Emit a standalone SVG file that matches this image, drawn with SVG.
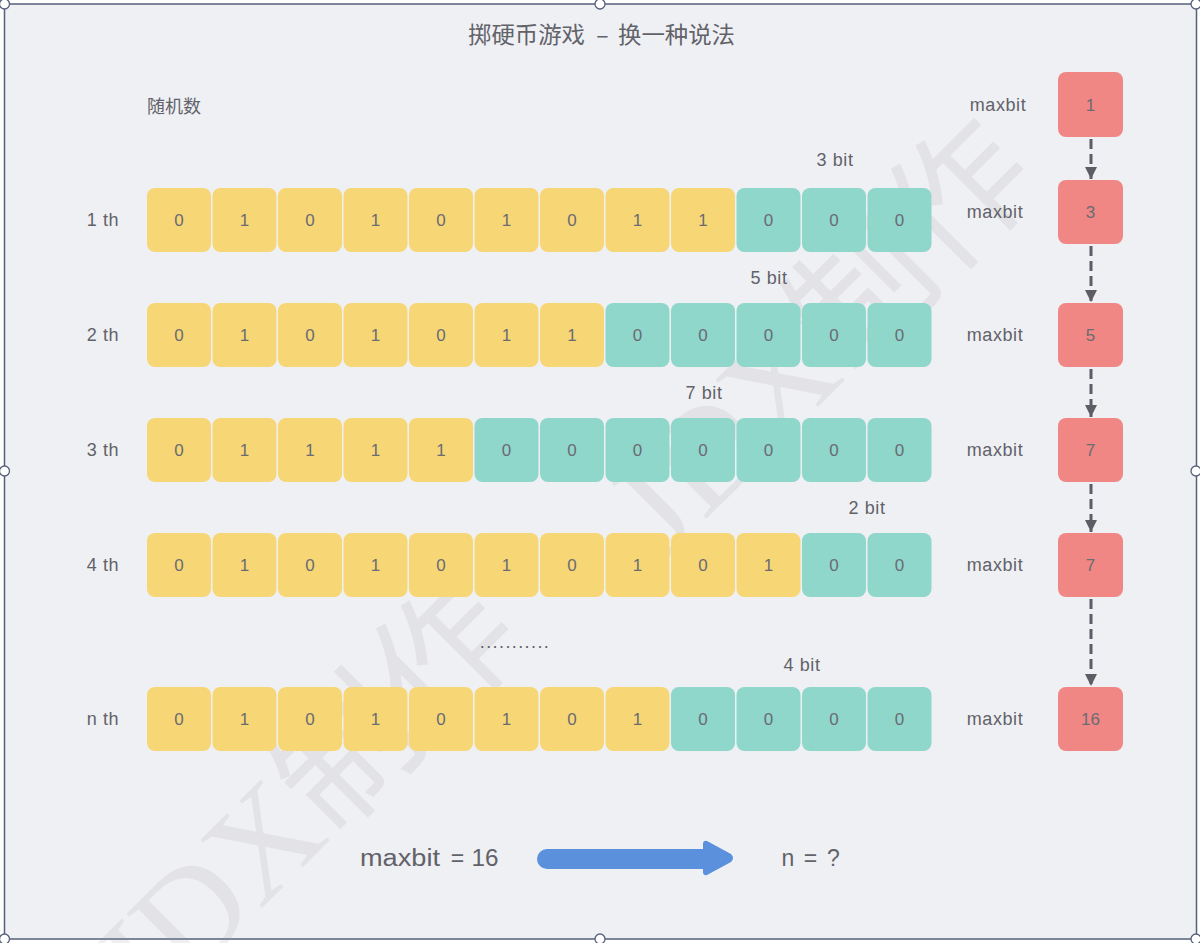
<svg xmlns="http://www.w3.org/2000/svg" width="1200" height="943" viewBox="0 0 1200 943">
<defs>
<style>
.txt{font-family:"Liberation Sans","Noto Sans CJK SC",sans-serif;fill:#626269;}
.cjk{font-family:"Noto Sans CJK SC","Liberation Sans",sans-serif;fill:#626269;}
.d{font-family:"Liberation Sans","Noto Sans CJK SC",sans-serif;font-size:17px;fill:#6b6b73;text-anchor:middle;dominant-baseline:central;}
.lab{font-family:"Liberation Sans","Noto Sans CJK SC",sans-serif;font-size:18px;letter-spacing:0.6px;fill:#626269;text-anchor:middle;dominant-baseline:central;}
.y{fill:#f7d676;}
.t{fill:#8fd6cb;}
.r{fill:#f08784;}
.conn{stroke:#5d5d66;stroke-width:3;stroke-dasharray:10 5;fill:none;}
.h{fill:#ffffff;stroke:#56607a;stroke-width:1.3;}
.wm{font-family:"Liberation Serif","Noto Sans CJK SC",serif;font-size:140px;fill:#8e8e96;opacity:0.13;}
</style>
<marker id="ah" markerUnits="userSpaceOnUse" markerWidth="14" markerHeight="14" refX="12" refY="6" orient="auto">
<path d="M0,0 L12,6 L0,12 z" fill="#5d5d66"/>
</marker>
</defs>
<rect x="0" y="0" width="1200" height="943" fill="#ffffff"/>
<rect id="frame" x="4.5" y="4" width="1192" height="935" fill="#eff0f4" stroke="#56607a" stroke-width="1.5"/>

<g id="watermark">
<text class="wm" transform="translate(665,560) rotate(-45)">JDX制作</text>
<text class="wm" transform="translate(150,1020) rotate(-45)">JDX制作</text>
</g>

<g id="title">
<text class="cjk" x="468" y="33" font-size="23" dominant-baseline="central" textLength="117" lengthAdjust="spacingAndGlyphs">掷硬币游戏</text>
<text class="cjk" x="602.5" y="33" font-size="23" text-anchor="middle" dominant-baseline="central">–</text>
<text class="cjk" x="618" y="33" font-size="23" dominant-baseline="central" textLength="117" lengthAdjust="spacingAndGlyphs">换一种说法</text>
</g>
<g id="label-random"><text class="cjk" x="147" y="105" font-size="18" dominant-baseline="central">随机数</text></g>

<g id="row-1" transform="translate(0,188)">
<text class="lab" x="103" y="32">1 th</text>
<rect class="y" x="147" width="64" height="64" rx="8"/><text class="d" x="179" y="32">0</text>
<rect class="y" x="212.5" width="64" height="64" rx="8"/><text class="d" x="244.5" y="32">1</text>
<rect class="y" x="278" width="64" height="64" rx="8"/><text class="d" x="310" y="32">0</text>
<rect class="y" x="343.5" width="64" height="64" rx="8"/><text class="d" x="375.5" y="32">1</text>
<rect class="y" x="409" width="64" height="64" rx="8"/><text class="d" x="441" y="32">0</text>
<rect class="y" x="474.5" width="64" height="64" rx="8"/><text class="d" x="506.5" y="32">1</text>
<rect class="y" x="540" width="64" height="64" rx="8"/><text class="d" x="572" y="32">0</text>
<rect class="y" x="605.5" width="64" height="64" rx="8"/><text class="d" x="637.5" y="32">1</text>
<rect class="y" x="671" width="64" height="64" rx="8"/><text class="d" x="703" y="32">1</text>
<rect class="t" x="736.5" width="64" height="64" rx="8"/><text class="d" x="768.5" y="32">0</text>
<rect class="t" x="802" width="64" height="64" rx="8"/><text class="d" x="834" y="32">0</text>
<rect class="t" x="867.5" width="64" height="64" rx="8"/><text class="d" x="899.5" y="32">0</text>
<text class="lab" x="835" y="-28">3 bit</text>
</g>

<g id="row-2" transform="translate(0,303)">
<text class="lab" x="103" y="32">2 th</text>
<rect class="y" x="147" width="64" height="64" rx="8"/><text class="d" x="179" y="32">0</text>
<rect class="y" x="212.5" width="64" height="64" rx="8"/><text class="d" x="244.5" y="32">1</text>
<rect class="y" x="278" width="64" height="64" rx="8"/><text class="d" x="310" y="32">0</text>
<rect class="y" x="343.5" width="64" height="64" rx="8"/><text class="d" x="375.5" y="32">1</text>
<rect class="y" x="409" width="64" height="64" rx="8"/><text class="d" x="441" y="32">0</text>
<rect class="y" x="474.5" width="64" height="64" rx="8"/><text class="d" x="506.5" y="32">1</text>
<rect class="y" x="540" width="64" height="64" rx="8"/><text class="d" x="572" y="32">1</text>
<rect class="t" x="605.5" width="64" height="64" rx="8"/><text class="d" x="637.5" y="32">0</text>
<rect class="t" x="671" width="64" height="64" rx="8"/><text class="d" x="703" y="32">0</text>
<rect class="t" x="736.5" width="64" height="64" rx="8"/><text class="d" x="768.5" y="32">0</text>
<rect class="t" x="802" width="64" height="64" rx="8"/><text class="d" x="834" y="32">0</text>
<rect class="t" x="867.5" width="64" height="64" rx="8"/><text class="d" x="899.5" y="32">0</text>
<text class="lab" x="769" y="-25">5 bit</text>
</g>

<g id="row-3" transform="translate(0,418)">
<text class="lab" x="103" y="32">3 th</text>
<rect class="y" x="147" width="64" height="64" rx="8"/><text class="d" x="179" y="32">0</text>
<rect class="y" x="212.5" width="64" height="64" rx="8"/><text class="d" x="244.5" y="32">1</text>
<rect class="y" x="278" width="64" height="64" rx="8"/><text class="d" x="310" y="32">1</text>
<rect class="y" x="343.5" width="64" height="64" rx="8"/><text class="d" x="375.5" y="32">1</text>
<rect class="y" x="409" width="64" height="64" rx="8"/><text class="d" x="441" y="32">1</text>
<rect class="t" x="474.5" width="64" height="64" rx="8"/><text class="d" x="506.5" y="32">0</text>
<rect class="t" x="540" width="64" height="64" rx="8"/><text class="d" x="572" y="32">0</text>
<rect class="t" x="605.5" width="64" height="64" rx="8"/><text class="d" x="637.5" y="32">0</text>
<rect class="t" x="671" width="64" height="64" rx="8"/><text class="d" x="703" y="32">0</text>
<rect class="t" x="736.5" width="64" height="64" rx="8"/><text class="d" x="768.5" y="32">0</text>
<rect class="t" x="802" width="64" height="64" rx="8"/><text class="d" x="834" y="32">0</text>
<rect class="t" x="867.5" width="64" height="64" rx="8"/><text class="d" x="899.5" y="32">0</text>
<text class="lab" x="704" y="-25">7 bit</text>
</g>

<g id="row-4" transform="translate(0,533)">
<text class="lab" x="103" y="32">4 th</text>
<rect class="y" x="147" width="64" height="64" rx="8"/><text class="d" x="179" y="32">0</text>
<rect class="y" x="212.5" width="64" height="64" rx="8"/><text class="d" x="244.5" y="32">1</text>
<rect class="y" x="278" width="64" height="64" rx="8"/><text class="d" x="310" y="32">0</text>
<rect class="y" x="343.5" width="64" height="64" rx="8"/><text class="d" x="375.5" y="32">1</text>
<rect class="y" x="409" width="64" height="64" rx="8"/><text class="d" x="441" y="32">0</text>
<rect class="y" x="474.5" width="64" height="64" rx="8"/><text class="d" x="506.5" y="32">1</text>
<rect class="y" x="540" width="64" height="64" rx="8"/><text class="d" x="572" y="32">0</text>
<rect class="y" x="605.5" width="64" height="64" rx="8"/><text class="d" x="637.5" y="32">1</text>
<rect class="y" x="671" width="64" height="64" rx="8"/><text class="d" x="703" y="32">0</text>
<rect class="y" x="736.5" width="64" height="64" rx="8"/><text class="d" x="768.5" y="32">1</text>
<rect class="t" x="802" width="64" height="64" rx="8"/><text class="d" x="834" y="32">0</text>
<rect class="t" x="867.5" width="64" height="64" rx="8"/><text class="d" x="899.5" y="32">0</text>
<text class="lab" x="867" y="-25">2 bit</text>
</g>

<g id="ellipsis"><text class="lab" x="515" y="642" style="letter-spacing:1.4px">...........</text></g>

<g id="row-n" transform="translate(0,687)">
<text class="lab" x="103" y="32">n th</text>
<rect class="y" x="147" width="64" height="64" rx="8"/><text class="d" x="179" y="32">0</text>
<rect class="y" x="212.5" width="64" height="64" rx="8"/><text class="d" x="244.5" y="32">1</text>
<rect class="y" x="278" width="64" height="64" rx="8"/><text class="d" x="310" y="32">0</text>
<rect class="y" x="343.5" width="64" height="64" rx="8"/><text class="d" x="375.5" y="32">1</text>
<rect class="y" x="409" width="64" height="64" rx="8"/><text class="d" x="441" y="32">0</text>
<rect class="y" x="474.5" width="64" height="64" rx="8"/><text class="d" x="506.5" y="32">1</text>
<rect class="y" x="540" width="64" height="64" rx="8"/><text class="d" x="572" y="32">0</text>
<rect class="y" x="605.5" width="64" height="64" rx="8"/><text class="d" x="637.5" y="32">1</text>
<rect class="t" x="671" width="64" height="64" rx="8"/><text class="d" x="703" y="32">0</text>
<rect class="t" x="736.5" width="64" height="64" rx="8"/><text class="d" x="768.5" y="32">0</text>
<rect class="t" x="802" width="64" height="64" rx="8"/><text class="d" x="834" y="32">0</text>
<rect class="t" x="867.5" width="64" height="64" rx="8"/><text class="d" x="899.5" y="32">0</text>
<text class="lab" x="802" y="-22">4 bit</text>
</g>

<g id="max-1"><text class="lab" x="998" y="105">maxbit</text><rect class="r" x="1058" y="72" width="65" height="65" rx="8"/><text class="d" x="1090.5" y="105">1</text></g>
<g id="max-2"><text class="lab" x="995" y="212">maxbit</text><rect class="r" x="1058" y="180" width="65" height="64" rx="8"/><text class="d" x="1090.5" y="212">3</text></g>
<g id="max-3"><text class="lab" x="995" y="335">maxbit</text><rect class="r" x="1058" y="303" width="65" height="64" rx="8"/><text class="d" x="1090.5" y="335">5</text></g>
<g id="max-4"><text class="lab" x="995" y="450">maxbit</text><rect class="r" x="1058" y="418" width="65" height="64" rx="8"/><text class="d" x="1090.5" y="450">7</text></g>
<g id="max-5"><text class="lab" x="995" y="565">maxbit</text><rect class="r" x="1058" y="533" width="65" height="64" rx="8"/><text class="d" x="1090.5" y="565">7</text></g>
<g id="max-n"><text class="lab" x="995" y="719">maxbit</text><rect class="r" x="1058" y="687" width="65" height="64" rx="8"/><text class="d" x="1090.5" y="719">16</text></g>

<g id="connectors">
<line class="conn" x1="1091" y1="139" x2="1091" y2="179" marker-end="url(#ah)"/>
<line class="conn" x1="1091" y1="246" x2="1091" y2="302" marker-end="url(#ah)"/>
<line class="conn" x1="1091" y1="369" x2="1091" y2="417" marker-end="url(#ah)"/>
<line class="conn" x1="1091" y1="484" x2="1091" y2="532" marker-end="url(#ah)"/>
<line class="conn" x1="1091" y1="599" x2="1091" y2="686" marker-end="url(#ah)"/>
<path id="big-arrow" d="M547,849 L703,849 L703,843 Q704,840 707,841 L731,854 Q735,858 731,862 L707,875 Q704,876 703,873 L703,869 L547,869 A10,10 0 0 1 547,849 Z" fill="#5b90dc"/>
</g>

<g id="result-left">
<text class="txt" x="360" y="858" font-size="23" dominant-baseline="central" textLength="80" lengthAdjust="spacingAndGlyphs">maxbit</text>
<text class="txt" x="457.5" y="858" font-size="23" text-anchor="middle" dominant-baseline="central">=</text>
<text class="txt" x="471.5" y="858" font-size="23" dominant-baseline="central" textLength="27" lengthAdjust="spacingAndGlyphs">16</text>
</g>
<g id="result-right">
<text class="txt" x="781.5" y="858" font-size="23" dominant-baseline="central">n</text>
<text class="txt" x="810.5" y="858" font-size="23" text-anchor="middle" dominant-baseline="central">=</text>
<text class="txt" x="827" y="858" font-size="23" dominant-baseline="central">?</text>
</g>

<g id="handles">
<circle class="h" cx="4.5" cy="4" r="5"/>
<circle class="h" cx="600" cy="4" r="5"/>
<circle class="h" cx="1196" cy="4" r="5"/>
<circle class="h" cx="4.5" cy="471" r="5"/>
<circle class="h" cx="1196" cy="471" r="5"/>
<circle class="h" cx="4.5" cy="939" r="5"/>
<circle class="h" cx="600" cy="939" r="5"/>
<circle class="h" cx="1196" cy="939" r="5"/>
</g>
</svg>
